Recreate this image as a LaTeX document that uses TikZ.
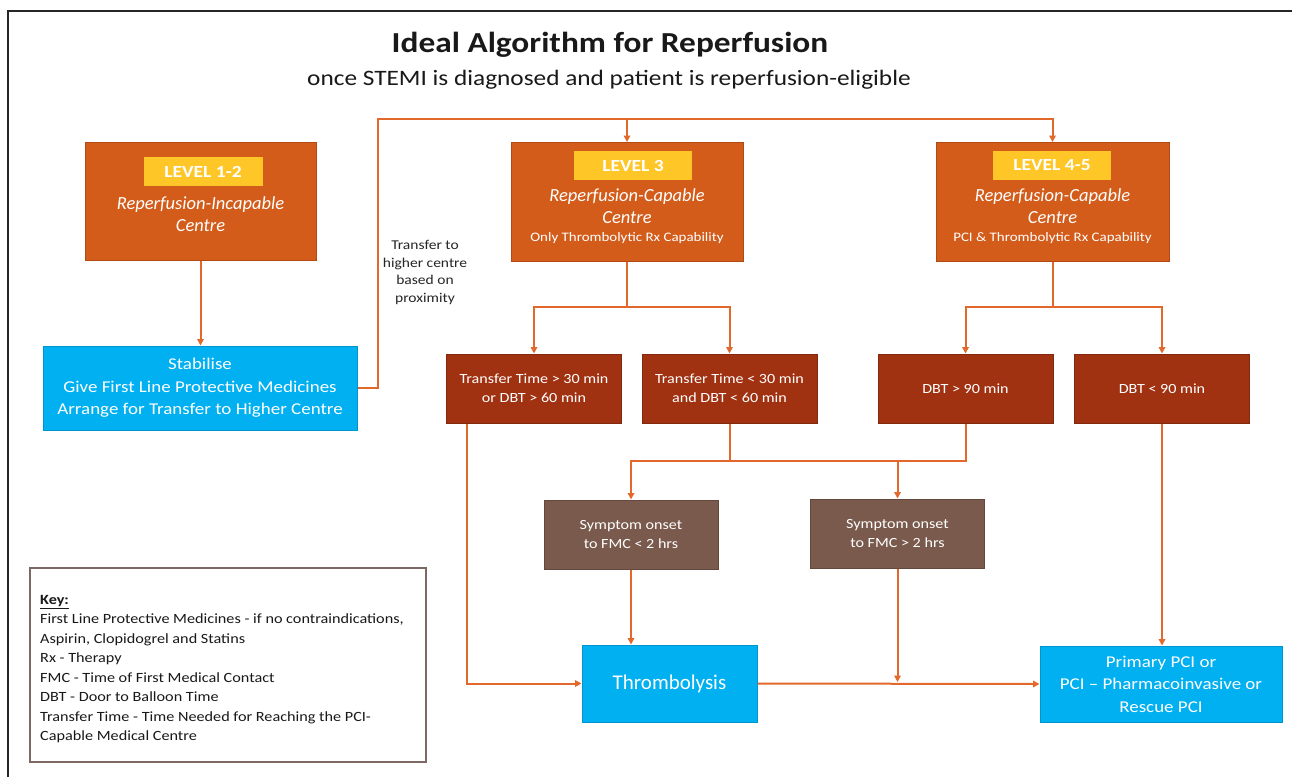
\documentclass[tikz,border=0pt]{standalone}
\usepackage{fontspec}
\setmainfont{Carlito}[FakeStretch=1.15]
\newfontfamily\plainfont{Carlito}
\usetikzlibrary{arrows.meta}
\definecolor{lvl}{RGB}{211,92,26}
\definecolor{lvlb}{RGB}{178,72,18}
\definecolor{yel}{RGB}{255,198,40}
\definecolor{dred}{RGB}{160,50,18}
\definecolor{dredb}{RGB}{130,40,14}
\definecolor{brn}{RGB}{122,90,77}
\definecolor{brnb}{RGB}{100,72,62}
\definecolor{cyn}{RGB}{0,176,240}
\definecolor{cynb}{RGB}{0,150,205}
\definecolor{conn}{RGB}{226,104,44}
\definecolor{keyb}{RGB}{125,105,100}
\tikzset{
  lvlbox/.style={fill=lvl, draw=lvlb, line width=1pt, inner sep=0pt},
  yelbox/.style={fill=yel, draw=none, inner sep=0pt, text=white, font=\fontsize{17}{20}\selectfont\bfseries},
  redbox/.style={fill=dred, draw=dredb, line width=1pt, inner sep=0pt, text=white, align=center, minimum width=175pt, minimum height=69pt, font=\fontsize{14}{19}\selectfont},
  brnbox/.style={fill=brn, draw=brnb, line width=1pt, inner sep=0pt, text=white, align=center, minimum width=174pt, minimum height=69pt, font=\fontsize{14}{19}\selectfont},
  cynbox/.style={fill=cyn, draw=cynb, line width=1pt, inner sep=0pt, text=white, align=center},
  wtxt/.style={text=white, align=center, inner sep=0pt},
  cline/.style={draw=conn, line width=2pt},
  arr/.style={cline, -{Triangle[length=6.5pt,width=6.5pt]}},
}
\begin{document}
\begin{tikzpicture}[x=1pt,y=-1pt]
\useasboundingbox (0,0) rectangle (1292,777);
\fill[white] (0,0) rectangle (1292,777);
% frame
\draw[line width=2.5pt, black!85] (8,777) -- (8,11) -- (1292,11);
% title
\node[inner sep=0pt, font=\fontsize{29}{33}\selectfont\bfseries, text=black!90] (title) at (610,45) {Ideal Algorithm for Reperfusion};
\node[inner sep=0pt, font=\fontsize{22}{26}\selectfont, text=black!90] (subtitle) at (609,80) {once STEMI is diagnosed and patient is reperfusion-eligible};

% level boxes
\node[lvlbox, minimum width=231pt, minimum height=118pt] (L12) at (200.5,201) {};
\node[yelbox, minimum width=119pt, minimum height=29pt] (Y12) at (203,171.5) {LEVEL 1-2};
\node[wtxt, font=\plainfont\fontsize{18.5}{22}\selectfont\itshape] (T12) at (200.5,214) {Reperfusion-Incapable\\Centre};

\node[lvlbox, minimum width=232pt, minimum height=119pt] (L3) at (627,202) {};
\node[yelbox, minimum width=118pt, minimum height=29pt] (Y3) at (633,165.5) {LEVEL 3};
\node[wtxt, font=\plainfont\fontsize{18.5}{22}\selectfont\itshape] (T3) at (627,206) {Reperfusion-Capable\\Centre};
\node[wtxt, font=\fontsize{13}{16}\selectfont] (S3) at (627,238) {Only Thrombolytic Rx Capability};

\node[lvlbox, minimum width=233pt, minimum height=119pt] (L45) at (1052.5,202) {};
\node[yelbox, minimum width=118pt, minimum height=29pt] (Y45) at (1052,165.5) {LEVEL 4-5};
\node[wtxt, font=\plainfont\fontsize{18.5}{22}\selectfont\itshape] (T45) at (1052.5,206) {Reperfusion-Capable\\Centre};
\node[wtxt, font=\fontsize{13}{16}\selectfont] (S45) at (1052.5,238) {PCI \& Thrombolytic Rx Capability};

% stabilise
\node[cynbox, minimum width=314pt, minimum height=84pt, font=\fontsize{16.5}{22.5}\selectfont] (stab) at (200,388) {Stabilise\\Give First Line Protective Medicines\\Arrange for Transfer to Higher Centre};

% transfer label
\node[inner sep=0pt, align=center, font=\fontsize{13.5}{17.7}\selectfont, text=black!85] (tlabel) at (425,272.5) {Transfer to\\higher centre\\based on\\proximity};

% decision boxes
\node[redbox] (T1) at (534,388.5) {Transfer Time > 30 min\\or DBT > 60 min};
\node[redbox] (T2) at (729.5,388.5) {Transfer Time < 30 min\\and DBT < 60 min};
\node[redbox] (D1) at (965.5,388.5) {DBT > 90 min};
\node[redbox] (D2) at (1162,388.5) {DBT < 90 min};

\node[brnbox] (S1) at (631,534.5) {Symptom onset\\to FMC < 2 hrs};
\node[brnbox] (S2) at (897.5,533.5) {Symptom onset\\to FMC > 2 hrs};

\node[cynbox, minimum width=175pt, minimum height=77pt, font=\plainfont\fontsize{21}{25}\selectfont] (thromb) at (669.5,683.5) {Thrombolysis};
\node[cynbox, minimum width=242pt, minimum height=76pt, font=\fontsize{16.5}{22.5}\selectfont] (prim) at (1161,684) {Primary PCI or\\PCI -- Pharmacoinvasive or\\Rescue PCI};

% key
\node[draw=keyb, line width=1.5pt, fill=white, minimum width=396pt, minimum height=194pt, inner sep=0pt] (key) at (228,665) {};
\node[anchor=north west, inner sep=0pt, align=left, font=\fontsize{14.1}{19.5}\selectfont, text=black!90] (keytxt) at (40,595) {\underline{\textbf{Key:}}\\First Line Protective Medicines - if no contraindications,\\Aspirin, Clopidogrel and Statins\\Rx - Therapy\\FMC - Time of First Medical Contact\\DBT - Door to Balloon Time\\Transfer Time - Time Needed for Reaching the PCI-\\Capable Medical Centre};

% connectors
\coordinate (topL) at (378,119);
\coordinate (fork) at (0,307);
\coordinate (merge) at (0,461);
\coordinate (t1x) at (467,0);

\draw[arr] (L12.south) -- (L12.south |- stab.north);
\draw[arr] (stab.east) -| (topL) -| (L45.north);
\draw[arr] (L3.north |- topL) -- (L3.north);

\draw[arr] (L3.south) -- (L3.south |- fork) -| (T1.north);
\draw[arr] (L3.south |- fork) -| (T2.north);
\draw[arr] (L45.south) -- (L45.south |- fork) -| (D1.north);
\draw[arr] (L45.south |- fork) -| (D2.north);

\draw[cline] (T2.south) -- (T2.south |- merge) -| (D1.south);
\draw[arr] (T2.south |- merge) -| (S1.north);
\draw[arr] (S2.north |- merge) -- (S2.north);

\draw[arr] (T1.south -| t1x) |- (thromb.west);
\draw[arr] (S1.south) -- (S1.south |- thromb.north);
\draw[arr] (thromb.east) -- (prim.west);
\draw[arr, shorten >=1.5pt] (S2.south) -- (S2.south |- thromb.east);
\draw[arr] (D2.south) -- (D2.south |- prim.north);
\end{tikzpicture}
\end{document}
